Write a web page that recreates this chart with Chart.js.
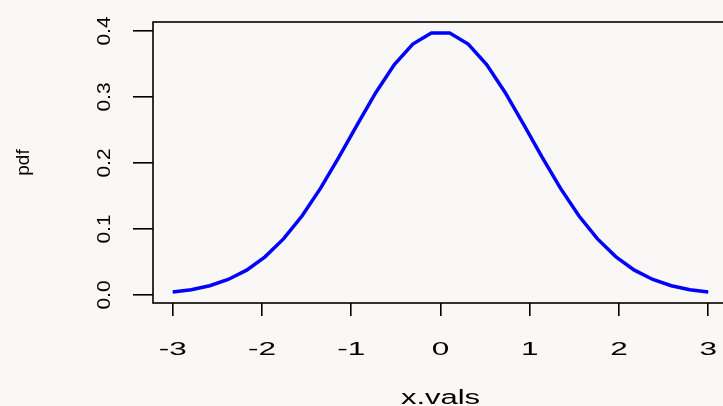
<!DOCTYPE html>
<html>
<head>
<meta charset="utf-8">
<script src="https://cdn.jsdelivr.net/npm/chart.js@4/dist/chart.umd.min.js"></script>
<style>
  html, body { margin: 0; padding: 0; overflow: hidden; background: #f9f8f6; }
  #wrap { width: 740px; height: 406px; }
</style>
</head>
<body>
<div id="wrap"><canvas id="pdfChart" width="740" height="406"></canvas></div>
<script>
// x.vals = 30 evenly spaced points on [-3, 3], pdf = standard normal density
const xVals = [
  -3.000, -2.793, -2.586, -2.379, -2.172, -1.966, -1.759, -1.552, -1.345, -1.138,
  -0.931, -0.724, -0.517, -0.310, -0.103,  0.103,  0.310,  0.517,  0.724,  0.931,
   1.138,  1.345,  1.552,  1.759,  1.966,  2.172,  2.379,  2.586,  2.793,  3.000
];
const pdfVals = [
  0.0044, 0.0081, 0.0141, 0.0235, 0.0377, 0.0578, 0.0850, 0.1197, 0.1615, 0.2088,
  0.2586, 0.3069, 0.3490, 0.3802, 0.3968, 0.3968, 0.3802, 0.3490, 0.3069, 0.2586,
  0.2088, 0.1615, 0.1197, 0.0850, 0.0578, 0.0377, 0.0235, 0.0141, 0.0081, 0.0044
];
const xTicks = [-3, -2, -1, 0, 1, 2, 3];
const yTicks = [0.0, 0.1, 0.2, 0.3, 0.4];
const xTickLabels = ['-3', '-2', '-1', '0', '1', '2', '3'];
const yTickLabels = ['0.0', '0.1', '0.2', '0.3', '0.4'];

const FONT = '"Liberation Sans", Arial, sans-serif';

// box around the plot region plus the base-graphics style text
const basePlot = {
  id: 'basePlot',
  beforeDraw(chart) {
    const ctx = chart.ctx;
    ctx.save();
    ctx.fillStyle = '#f9f8f6';
    ctx.fillRect(0, 0, chart.width, chart.height);
    ctx.restore();
  },
  afterDraw(chart) {
    const ctx = chart.ctx;
    const xs = chart.scales.x;
    const ys = chart.scales.y;
    const left = xs.getPixelForValue(xs.min);
    const right = xs.getPixelForValue(xs.max);
    const top = ys.getPixelForValue(ys.max);
    const bottom = ys.getPixelForValue(ys.min);
    ctx.save();
    ctx.strokeStyle = '#000';
    ctx.lineWidth = 1.6;
    ctx.strokeRect(left, top, right - left, bottom - top);

    ctx.fillStyle = '#000';
    ctx.font = '18px ' + FONT;
    ctx.textAlign = 'center';
    ctx.textBaseline = 'alphabetic';

    // x tick labels (wide)
    xTicks.forEach((v, i) => {
      ctx.save();
      ctx.translate(xs.getPixelForValue(v), 355);
      ctx.scale(1.75, 1);
      ctx.fillText(xTickLabels[i], 0, 0);
      ctx.restore();
    });

    // y tick labels, rotated
    ctx.font = '19px ' + FONT;
    yTicks.forEach((v, i) => {
      ctx.save();
      ctx.translate(110, ys.getPixelForValue(v));
      ctx.rotate(-Math.PI / 2);
      ctx.scale(1.1, 1);
      ctx.fillText(yTickLabels[i], 0, 0);
      ctx.restore();
    });

    // axis titles
    ctx.save();
    ctx.font = '20px ' + FONT;
    ctx.translate((left + right) / 2, 404);
    ctx.scale(1.55, 1);
    ctx.fillText('x.vals', 0, 0);
    ctx.restore();

    ctx.save();
    ctx.font = '19px ' + FONT;
    ctx.translate(29, (top + bottom) / 2);
    ctx.rotate(-Math.PI / 2);
    ctx.fillText('pdf', 0, 0);
    ctx.restore();

    ctx.restore();
  }
};

new Chart(document.getElementById('pdfChart'), {
  type: 'line',
  data: {
    datasets: [{
      data: xVals.map((x, i) => ({ x: x, y: pdfVals[i] })),
      borderColor: '#0000ff',
      borderWidth: 3.5,
      pointRadius: 0,
      tension: 0,
      fill: false
    }]
  },
  options: {
    responsive: false,
    animation: false,
    layout: { padding: { left: 0, top: 22, right: 12, bottom: 0 } },
    plugins: { legend: { display: false }, tooltip: { enabled: false } },
    scales: {
      x: {
        type: 'linear',
        min: -3.221,
        max: 3.221,
        afterBuildTicks: (scale) => { scale.ticks = xTicks.map(v => ({ value: v })); },
        afterFit: (scale) => { scale.height = 103; },
        ticks: { display: false },
        border: { display: false },
        grid: { drawOnChartArea: false, drawTicks: true, tickLength: 13, color: '#000', lineWidth: 1.6 }
      },
      y: {
        type: 'linear',
        min: -0.0121,
        max: 0.4136,
        afterBuildTicks: (scale) => { scale.ticks = yTicks.map(v => ({ value: v })); },
        afterFit: (scale) => { scale.width = 153; },
        ticks: { display: false },
        border: { display: false },
        grid: { drawOnChartArea: false, drawTicks: true, tickLength: 20, color: '#000', lineWidth: 1.6 }
      }
    }
  },
  plugins: [basePlot]
});
</script>
</body>
</html>
